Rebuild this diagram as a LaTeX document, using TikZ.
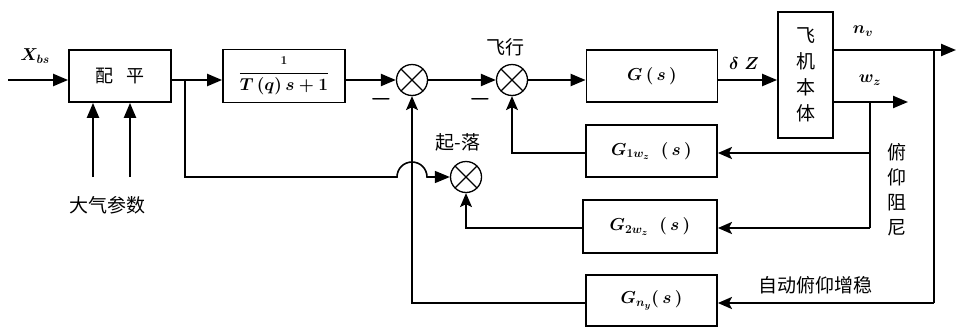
\documentclass[tikz,border=0pt]{standalone}
\usepackage{fontspec}
\newfontfamily\cjk{Noto Sans CJK SC}
\usetikzlibrary{arrows.meta}
\begin{document}
\begin{tikzpicture}[x=1pt,y=-1pt,
  blk/.style={draw,line width=1.8pt,minimum width=131pt,minimum height=52pt,inner sep=0pt,font=\fontsize{18}{20}\selectfont\boldmath},
  sumn/.style={draw,circle,line width=1.3pt,minimum size=31pt,inner sep=0pt,
    path picture={\draw[line width=1.3pt] (path picture bounding box.north west)--(path picture bounding box.south east)
      (path picture bounding box.north east)--(path picture bounding box.south west);}},
  main/.style={line width=2.2pt},
  fb/.style={line width=1.1pt},
  arr/.style={-{Triangle[length=15pt,width=12pt]}},
  farr/.style={-{Stealth[length=14pt,width=12pt,inset=3pt]}},
  mlbl/.style={font=\fontsize{18}{20}\selectfont\boldmath,inner sep=0pt},
  lbl/.style={font=\fontsize{19}{21}\selectfont\cjk,inner sep=0pt}]
\useasboundingbox (0,0) rectangle (956,327);

% blocks
\node[blk,minimum width=102pt] (pp) at (120,76) {\cjk 配\hspace{0.7em}平};
\node[blk,minimum width=122pt,minimum height=53pt] (tf) at (284,76) {$\displaystyle\frac{\scriptstyle 1}{T\,(q)\,s+1}$};
\node[sumn] (s1) at (412,80) {};
\node[sumn] (s2) at (512,80) {};
\node[sumn] (s3) at (466,177) {};
\node[blk] (g) at (652,76) {$G\,(\,s\,)$\hspace{1.2em}};
\node[blk,minimum width=55pt,minimum height=126pt,align=center,font=\fontsize{19}{26}\selectfont\cjk] (pl) at (805.5,75) {飞\\机\\本\\体};
\node[blk] (g1) at (651.5,151) {$G_{1w_z}\;\;(\,s\,)$};
\node[blk,minimum width=134pt,minimum height=53pt] (g2) at (650,226.5) {$G_{2w_z}\;\;(\,s\,)$};
\node[blk,minimum height=51pt] (gn) at (651.5,300.5) {$G_{n_y}(\,s\,)$};

% coordinates
\coordinate (in) at (8,80);
\coordinate (b1) at (185,80);
\coordinate (b1d) at (185,177);
\coordinate (hs) at (397,177);
\coordinate (a1) at (93,177);
\coordinate (a2) at (130,177);
\coordinate (nv) at (956,50);
\coordinate (wz) at (908,102);
\coordinate (wb) at (870,102);
\coordinate (wb1) at (870,153);
\coordinate (wb2) at (870,228);
\coordinate (nb) at (934,50);
\coordinate (nb1) at (934,303);
\coordinate (f1) at (512,153);
\coordinate (f2) at (466,228);
\coordinate (f3) at (412,303);

% forward path
\draw[main,arr] (in) -- (in -| pp.west);
\draw[main,arr] (b1 -| pp.east) -- (b1 -| tf.west);
\draw[main,arr] (tf.east |- s1) -- (s1.west);
\draw[main,arr] (s1.east) -- (s2.west);
\draw[main,arr] (s2.east) -- (s2 -| g.west);
\draw[main,arr] (s2 -| g.east) -- (s2 -| pl.west);
\draw[main,arr] (nv -| pl.east) -- (nv);
\draw[main,arr] (wz -| pl.east) -- (wz);
\draw[main,arr] (a1) -- (a1 |- pp.south);
\draw[main,arr] (a2) -- (a2 |- pp.south);

% branch with hump
\draw[line width=1.6pt,arr] (b1) -- (b1d) -- (hs) arc[start angle=180,end angle=360,radius=15] -- (s3.west);

% feedback branches
\draw[main] (wb) -- (wb2);
\draw[main,farr] (wb1) -- (wb1 -| g1.east);
\draw[main,farr] (wb2) -- (wb2 -| g2.east);
\draw[main] (nb) -- (nb1);
\draw[main,farr] (nb1) -- (nb1 -| gn.east);

% feedback outputs
\draw[fb,farr] (f1 -| g1.west) -- (f1) -- (s2.south);
\draw[fb,farr] (f2 -| g2.west) -- (f2) -- (s3.south);
\draw[fb,farr] (f3 -| gn.west) -- (f3) -- (s1.south);

% labels
\node[mlbl] at (35,56) {$X_{bs}$};
\node[font=\fontsize{24}{24}\selectfont\boldmath,inner sep=0pt] at (381,99) {$-$};
\node[font=\fontsize{24}{24}\selectfont\boldmath,inner sep=0pt] at (480,99) {$-$};
\node[lbl] (lfx) at (505,47) {飞行};
\node[lbl] (lqz) at (458,142) {起-落};
\node[mlbl] at (744,63) {$\delta\;Z$};
\node[mlbl] at (863,31) {$n_v$};
\node[mlbl] at (870,80) {$w_z$};
\node[lbl,align=center,font=\fontsize{19}{25}\selectfont\cjk] (lfy) at (897,190) {俯\\仰\\阻\\尼};
\node[lbl] (lzd) at (815,285) {自动俯仰增稳};
\node[lbl] (ldq) at (107,205) {大气参数};
\end{tikzpicture}
\end{document}
